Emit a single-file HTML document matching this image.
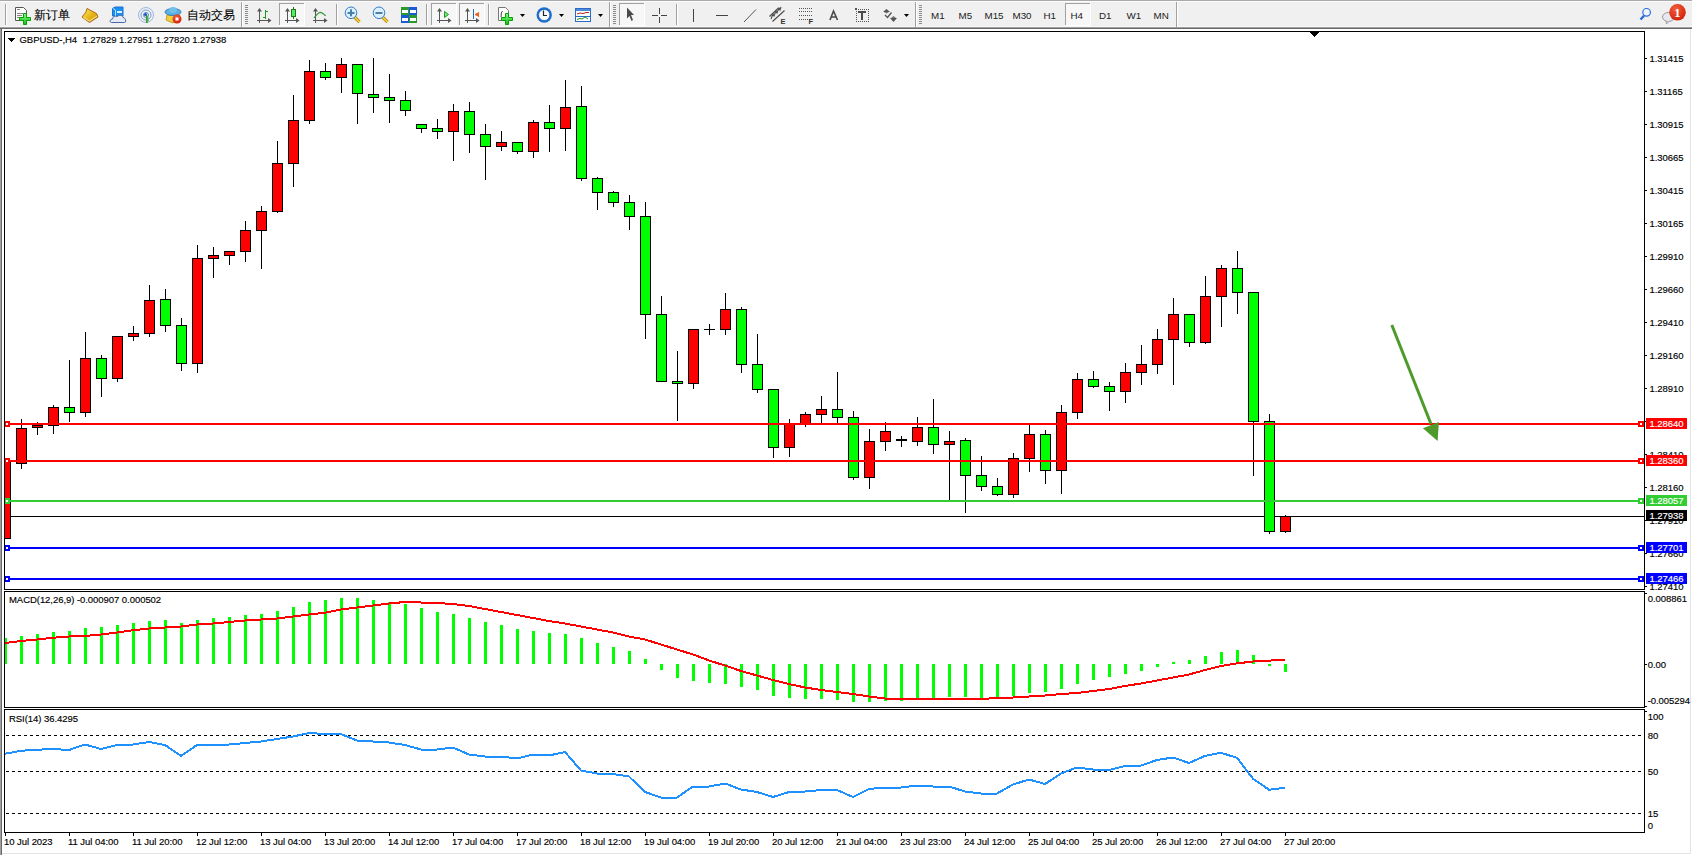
<!DOCTYPE html>
<html><head><meta charset="utf-8"><style>
html,body{margin:0;padding:0;}
body{width:1692px;height:855px;overflow:hidden;background:#f0f0f0;position:relative;font-family:"Liberation Sans",sans-serif;}
svg{position:absolute;left:0;top:0;}
.ax,.axw{font-family:"Liberation Sans",sans-serif;font-size:9.5px;letter-spacing:-0.05px;fill:#000;}
.axw{fill:#fff;}
.ax{stroke:#000;stroke-width:0.15px;}
.axw{stroke:#fff;stroke-width:0.15px;}
.cn{font-family:"Liberation Sans",sans-serif;font-size:11.5px;fill:#000;stroke:#000;stroke-width:0.1px;}
.tb{font-family:"Liberation Sans",sans-serif;fill:#444;}
.tf{font-family:"Liberation Sans",sans-serif;font-size:9.8px;fill:#222;}
</style></head><body>
<svg width="1692" height="855" viewBox="0 0 1692 855" shape-rendering="crispEdges">
<defs><clipPath id="mainclip"><rect x="5" y="32" width="1639" height="557"/></clipPath></defs>
<rect x="0" y="27" width="1692" height="828" fill="#ffffff"/>
<rect x="0" y="27" width="1" height="828" fill="#a0a0a0"/>
<rect x="1" y="28" width="1" height="827" fill="#696969"/>
<rect x="1690" y="29" width="1" height="825" fill="#e3e3e3"/>
<rect x="2" y="853" width="1689" height="1" fill="#e3e3e3"/>
<rect x="5" y="516" width="1639" height="1" fill="#000"/>
<g clip-path="url(#mainclip)"><rect x="5" y="462" width="1" height="77" fill="#000"/><rect x="0" y="462" width="11" height="77" fill="#000"/><rect x="1" y="463" width="9" height="75" fill="#ff0000"/><rect x="21" y="419" width="1" height="50" fill="#000"/><rect x="16" y="428" width="11" height="36" fill="#000"/><rect x="17" y="429" width="9" height="34" fill="#ff0000"/><rect x="37" y="422" width="1" height="13" fill="#000"/><rect x="32" y="425" width="11" height="3" fill="#000"/><rect x="33" y="426" width="9" height="1" fill="#ff0000"/><rect x="53" y="405" width="1" height="29" fill="#000"/><rect x="48" y="407" width="11" height="19" fill="#000"/><rect x="49" y="408" width="9" height="17" fill="#ff0000"/><rect x="69" y="360" width="1" height="62" fill="#000"/><rect x="64" y="407" width="11" height="6" fill="#000"/><rect x="65" y="408" width="9" height="4" fill="#00ff00"/><rect x="85" y="332" width="1" height="85" fill="#000"/><rect x="80" y="358" width="11" height="55" fill="#000"/><rect x="81" y="359" width="9" height="53" fill="#ff0000"/><rect x="101" y="355" width="1" height="42" fill="#000"/><rect x="96" y="358" width="11" height="21" fill="#000"/><rect x="97" y="359" width="9" height="19" fill="#00ff00"/><rect x="117" y="336" width="1" height="46" fill="#000"/><rect x="112" y="336" width="11" height="43" fill="#000"/><rect x="113" y="337" width="9" height="41" fill="#ff0000"/><rect x="133" y="326" width="1" height="15" fill="#000"/><rect x="128" y="333" width="11" height="4" fill="#000"/><rect x="129" y="334" width="9" height="2" fill="#ff0000"/><rect x="149" y="285" width="1" height="52" fill="#000"/><rect x="144" y="300" width="11" height="34" fill="#000"/><rect x="145" y="301" width="9" height="32" fill="#ff0000"/><rect x="165" y="289" width="1" height="43" fill="#000"/><rect x="160" y="299" width="11" height="27" fill="#000"/><rect x="161" y="300" width="9" height="25" fill="#00ff00"/><rect x="181" y="318" width="1" height="53" fill="#000"/><rect x="176" y="325" width="11" height="39" fill="#000"/><rect x="177" y="326" width="9" height="37" fill="#00ff00"/><rect x="197" y="245" width="1" height="128" fill="#000"/><rect x="192" y="258" width="11" height="106" fill="#000"/><rect x="193" y="259" width="9" height="104" fill="#ff0000"/><rect x="213" y="247" width="1" height="31" fill="#000"/><rect x="208" y="255" width="11" height="4" fill="#000"/><rect x="209" y="256" width="9" height="2" fill="#ff0000"/><rect x="229" y="251" width="1" height="14" fill="#000"/><rect x="224" y="251" width="11" height="5" fill="#000"/><rect x="225" y="252" width="9" height="3" fill="#ff0000"/><rect x="245" y="221" width="1" height="41" fill="#000"/><rect x="240" y="230" width="11" height="22" fill="#000"/><rect x="241" y="231" width="9" height="20" fill="#ff0000"/><rect x="261" y="206" width="1" height="63" fill="#000"/><rect x="256" y="211" width="11" height="20" fill="#000"/><rect x="257" y="212" width="9" height="18" fill="#ff0000"/><rect x="277" y="141" width="1" height="72" fill="#000"/><rect x="272" y="163" width="11" height="49" fill="#000"/><rect x="273" y="164" width="9" height="47" fill="#ff0000"/><rect x="293" y="95" width="1" height="92" fill="#000"/><rect x="288" y="120" width="11" height="44" fill="#000"/><rect x="289" y="121" width="9" height="42" fill="#ff0000"/><rect x="309" y="60" width="1" height="64" fill="#000"/><rect x="304" y="71" width="11" height="50" fill="#000"/><rect x="305" y="72" width="9" height="48" fill="#ff0000"/><rect x="325" y="63" width="1" height="17" fill="#000"/><rect x="320" y="71" width="11" height="7" fill="#000"/><rect x="321" y="72" width="9" height="5" fill="#00ff00"/><rect x="341" y="58" width="1" height="35" fill="#000"/><rect x="336" y="64" width="11" height="14" fill="#000"/><rect x="337" y="65" width="9" height="12" fill="#ff0000"/><rect x="357" y="64" width="1" height="60" fill="#000"/><rect x="352" y="64" width="11" height="30" fill="#000"/><rect x="353" y="65" width="9" height="28" fill="#00ff00"/><rect x="373" y="58" width="1" height="55" fill="#000"/><rect x="368" y="94" width="11" height="4" fill="#000"/><rect x="369" y="95" width="9" height="2" fill="#00ff00"/><rect x="389" y="74" width="1" height="49" fill="#000"/><rect x="384" y="97" width="11" height="4" fill="#000"/><rect x="385" y="98" width="9" height="2" fill="#00ff00"/><rect x="405" y="91" width="1" height="25" fill="#000"/><rect x="400" y="100" width="11" height="11" fill="#000"/><rect x="401" y="101" width="9" height="9" fill="#00ff00"/><rect x="421" y="124" width="1" height="9" fill="#000"/><rect x="416" y="124" width="11" height="5" fill="#000"/><rect x="417" y="125" width="9" height="3" fill="#00ff00"/><rect x="437" y="119" width="1" height="20" fill="#000"/><rect x="432" y="128" width="11" height="4" fill="#000"/><rect x="433" y="129" width="9" height="2" fill="#00ff00"/><rect x="453" y="104" width="1" height="57" fill="#000"/><rect x="448" y="111" width="11" height="21" fill="#000"/><rect x="449" y="112" width="9" height="19" fill="#ff0000"/><rect x="469" y="102" width="1" height="51" fill="#000"/><rect x="464" y="111" width="11" height="24" fill="#000"/><rect x="465" y="112" width="9" height="22" fill="#00ff00"/><rect x="485" y="124" width="1" height="56" fill="#000"/><rect x="480" y="134" width="11" height="13" fill="#000"/><rect x="481" y="135" width="9" height="11" fill="#00ff00"/><rect x="501" y="131" width="1" height="20" fill="#000"/><rect x="496" y="142" width="11" height="5" fill="#000"/><rect x="497" y="143" width="9" height="3" fill="#ff0000"/><rect x="517" y="142" width="1" height="12" fill="#000"/><rect x="512" y="142" width="11" height="10" fill="#000"/><rect x="513" y="143" width="9" height="8" fill="#00ff00"/><rect x="533" y="120" width="1" height="38" fill="#000"/><rect x="528" y="122" width="11" height="30" fill="#000"/><rect x="529" y="123" width="9" height="28" fill="#ff0000"/><rect x="549" y="105" width="1" height="47" fill="#000"/><rect x="544" y="122" width="11" height="7" fill="#000"/><rect x="545" y="123" width="9" height="5" fill="#00ff00"/><rect x="565" y="80" width="1" height="71" fill="#000"/><rect x="560" y="107" width="11" height="22" fill="#000"/><rect x="561" y="108" width="9" height="20" fill="#ff0000"/><rect x="581" y="86" width="1" height="95" fill="#000"/><rect x="576" y="106" width="11" height="73" fill="#000"/><rect x="577" y="107" width="9" height="71" fill="#00ff00"/><rect x="597" y="177" width="1" height="33" fill="#000"/><rect x="592" y="178" width="11" height="15" fill="#000"/><rect x="593" y="179" width="9" height="13" fill="#00ff00"/><rect x="613" y="191" width="1" height="16" fill="#000"/><rect x="608" y="192" width="11" height="11" fill="#000"/><rect x="609" y="193" width="9" height="9" fill="#00ff00"/><rect x="629" y="195" width="1" height="35" fill="#000"/><rect x="624" y="202" width="11" height="15" fill="#000"/><rect x="625" y="203" width="9" height="13" fill="#00ff00"/><rect x="645" y="202" width="1" height="137" fill="#000"/><rect x="640" y="216" width="11" height="99" fill="#000"/><rect x="641" y="217" width="9" height="97" fill="#00ff00"/><rect x="661" y="296" width="1" height="86" fill="#000"/><rect x="656" y="314" width="11" height="68" fill="#000"/><rect x="657" y="315" width="9" height="66" fill="#00ff00"/><rect x="677" y="351" width="1" height="70" fill="#000"/><rect x="672" y="381" width="11" height="3" fill="#000"/><rect x="673" y="382" width="9" height="1" fill="#00ff00"/><rect x="693" y="329" width="1" height="60" fill="#000"/><rect x="688" y="329" width="11" height="55" fill="#000"/><rect x="689" y="330" width="9" height="53" fill="#ff0000"/><rect x="709" y="324" width="1" height="11" fill="#000"/><rect x="704" y="329" width="11" height="1" fill="#000"/><rect x="725" y="293" width="1" height="42" fill="#000"/><rect x="720" y="309" width="11" height="21" fill="#000"/><rect x="721" y="310" width="9" height="19" fill="#ff0000"/><rect x="741" y="307" width="1" height="66" fill="#000"/><rect x="736" y="309" width="11" height="56" fill="#000"/><rect x="737" y="310" width="9" height="54" fill="#00ff00"/><rect x="757" y="334" width="1" height="59" fill="#000"/><rect x="752" y="364" width="11" height="26" fill="#000"/><rect x="753" y="365" width="9" height="24" fill="#00ff00"/><rect x="773" y="389" width="1" height="69" fill="#000"/><rect x="768" y="389" width="11" height="59" fill="#000"/><rect x="769" y="390" width="9" height="57" fill="#00ff00"/><rect x="789" y="419" width="1" height="38" fill="#000"/><rect x="784" y="424" width="11" height="24" fill="#000"/><rect x="785" y="425" width="9" height="22" fill="#ff0000"/><rect x="805" y="412" width="1" height="15" fill="#000"/><rect x="800" y="414" width="11" height="11" fill="#000"/><rect x="801" y="415" width="9" height="9" fill="#ff0000"/><rect x="821" y="396" width="1" height="27" fill="#000"/><rect x="816" y="409" width="11" height="6" fill="#000"/><rect x="817" y="410" width="9" height="4" fill="#ff0000"/><rect x="837" y="372" width="1" height="51" fill="#000"/><rect x="832" y="409" width="11" height="9" fill="#000"/><rect x="833" y="410" width="9" height="7" fill="#00ff00"/><rect x="853" y="411" width="1" height="69" fill="#000"/><rect x="848" y="417" width="11" height="61" fill="#000"/><rect x="849" y="418" width="9" height="59" fill="#00ff00"/><rect x="869" y="429" width="1" height="60" fill="#000"/><rect x="864" y="441" width="11" height="37" fill="#000"/><rect x="865" y="442" width="9" height="35" fill="#ff0000"/><rect x="885" y="422" width="1" height="29" fill="#000"/><rect x="880" y="431" width="11" height="11" fill="#000"/><rect x="881" y="432" width="9" height="9" fill="#ff0000"/><rect x="901" y="436" width="1" height="11" fill="#000"/><rect x="896" y="439" width="11" height="2" fill="#000"/><rect x="917" y="417" width="1" height="29" fill="#000"/><rect x="912" y="427" width="11" height="15" fill="#000"/><rect x="913" y="428" width="9" height="13" fill="#ff0000"/><rect x="933" y="399" width="1" height="55" fill="#000"/><rect x="928" y="427" width="11" height="18" fill="#000"/><rect x="929" y="428" width="9" height="16" fill="#00ff00"/><rect x="949" y="431" width="1" height="70" fill="#000"/><rect x="944" y="441" width="11" height="4" fill="#000"/><rect x="945" y="442" width="9" height="2" fill="#ff0000"/><rect x="965" y="438" width="1" height="75" fill="#000"/><rect x="960" y="440" width="11" height="36" fill="#000"/><rect x="961" y="441" width="9" height="34" fill="#00ff00"/><rect x="981" y="456" width="1" height="35" fill="#000"/><rect x="976" y="475" width="11" height="12" fill="#000"/><rect x="977" y="476" width="9" height="10" fill="#00ff00"/><rect x="997" y="478" width="1" height="18" fill="#000"/><rect x="992" y="486" width="11" height="9" fill="#000"/><rect x="993" y="487" width="9" height="7" fill="#00ff00"/><rect x="1013" y="453" width="1" height="45" fill="#000"/><rect x="1008" y="458" width="11" height="37" fill="#000"/><rect x="1009" y="459" width="9" height="35" fill="#ff0000"/><rect x="1029" y="425" width="1" height="47" fill="#000"/><rect x="1024" y="434" width="11" height="25" fill="#000"/><rect x="1025" y="435" width="9" height="23" fill="#ff0000"/><rect x="1045" y="430" width="1" height="54" fill="#000"/><rect x="1040" y="434" width="11" height="37" fill="#000"/><rect x="1041" y="435" width="9" height="35" fill="#00ff00"/><rect x="1061" y="405" width="1" height="89" fill="#000"/><rect x="1056" y="412" width="11" height="59" fill="#000"/><rect x="1057" y="413" width="9" height="57" fill="#ff0000"/><rect x="1077" y="373" width="1" height="46" fill="#000"/><rect x="1072" y="379" width="11" height="34" fill="#000"/><rect x="1073" y="380" width="9" height="32" fill="#ff0000"/><rect x="1093" y="371" width="1" height="17" fill="#000"/><rect x="1088" y="379" width="11" height="8" fill="#000"/><rect x="1089" y="380" width="9" height="6" fill="#00ff00"/><rect x="1109" y="382" width="1" height="29" fill="#000"/><rect x="1104" y="386" width="11" height="6" fill="#000"/><rect x="1105" y="387" width="9" height="4" fill="#00ff00"/><rect x="1125" y="363" width="1" height="40" fill="#000"/><rect x="1120" y="372" width="11" height="20" fill="#000"/><rect x="1121" y="373" width="9" height="18" fill="#ff0000"/><rect x="1141" y="345" width="1" height="40" fill="#000"/><rect x="1136" y="364" width="11" height="9" fill="#000"/><rect x="1137" y="365" width="9" height="7" fill="#ff0000"/><rect x="1157" y="329" width="1" height="45" fill="#000"/><rect x="1152" y="339" width="11" height="26" fill="#000"/><rect x="1153" y="340" width="9" height="24" fill="#ff0000"/><rect x="1173" y="298" width="1" height="87" fill="#000"/><rect x="1168" y="314" width="11" height="26" fill="#000"/><rect x="1169" y="315" width="9" height="24" fill="#ff0000"/><rect x="1189" y="314" width="1" height="33" fill="#000"/><rect x="1184" y="314" width="11" height="29" fill="#000"/><rect x="1185" y="315" width="9" height="27" fill="#00ff00"/><rect x="1205" y="276" width="1" height="68" fill="#000"/><rect x="1200" y="296" width="11" height="47" fill="#000"/><rect x="1201" y="297" width="9" height="45" fill="#ff0000"/><rect x="1221" y="265" width="1" height="62" fill="#000"/><rect x="1216" y="268" width="11" height="29" fill="#000"/><rect x="1217" y="269" width="9" height="27" fill="#ff0000"/><rect x="1237" y="251" width="1" height="63" fill="#000"/><rect x="1232" y="268" width="11" height="25" fill="#000"/><rect x="1233" y="269" width="9" height="23" fill="#00ff00"/><rect x="1253" y="292" width="1" height="184" fill="#000"/><rect x="1248" y="292" width="11" height="130" fill="#000"/><rect x="1249" y="293" width="9" height="128" fill="#00ff00"/><rect x="1269" y="414" width="1" height="120" fill="#000"/><rect x="1264" y="421" width="11" height="111" fill="#000"/><rect x="1265" y="422" width="9" height="109" fill="#00ff00"/><rect x="1285" y="515" width="1" height="18" fill="#000"/><rect x="1280" y="516" width="11" height="16" fill="#000"/><rect x="1281" y="517" width="9" height="14" fill="#ff0000"/></g>
<rect x="5" y="423" width="1639" height="2" fill="#ff0000"/>
<rect x="4" y="421" width="6" height="6" fill="#ff0000"/><rect x="6" y="423" width="2" height="2" fill="#fff"/>
<rect x="1638" y="421" width="6" height="6" fill="#ff0000"/><rect x="1640" y="423" width="2" height="2" fill="#fff"/>
<rect x="5" y="460" width="1639" height="2" fill="#ff0000"/>
<rect x="4" y="458" width="6" height="6" fill="#ff0000"/><rect x="6" y="460" width="2" height="2" fill="#fff"/>
<rect x="1638" y="458" width="6" height="6" fill="#ff0000"/><rect x="1640" y="460" width="2" height="2" fill="#fff"/>
<rect x="5" y="500" width="1639" height="2" fill="#32cd32"/>
<rect x="4" y="498" width="6" height="6" fill="#32cd32"/><rect x="6" y="500" width="2" height="2" fill="#fff"/>
<rect x="1638" y="498" width="6" height="6" fill="#32cd32"/><rect x="1640" y="500" width="2" height="2" fill="#fff"/>
<rect x="5" y="547" width="1639" height="2" fill="#0000ff"/>
<rect x="4" y="545" width="6" height="6" fill="#0000ff"/><rect x="6" y="547" width="2" height="2" fill="#fff"/>
<rect x="1638" y="545" width="6" height="6" fill="#0000ff"/><rect x="1640" y="547" width="2" height="2" fill="#fff"/>
<rect x="5" y="578" width="1639" height="2" fill="#0000ff"/>
<rect x="4" y="576" width="6" height="6" fill="#0000ff"/><rect x="6" y="578" width="2" height="2" fill="#fff"/>
<rect x="1638" y="576" width="6" height="6" fill="#0000ff"/><rect x="1640" y="578" width="2" height="2" fill="#fff"/>
<line x1="1391.8" y1="325" x2="1431" y2="424" stroke="#4e9a2a" stroke-width="3" shape-rendering="auto"/>
<polygon points="1422.9,428.2 1438.9,422.1 1437.6,440.9" fill="#4e9a2a" shape-rendering="auto"/>
<rect x="4" y="31" width="1641" height="1" fill="#000"/>
<rect x="4" y="589" width="1641" height="1" fill="#000"/>
<rect x="4" y="31" width="1" height="559" fill="#000"/>
<rect x="1644" y="31" width="1" height="559" fill="#000"/>
<rect x="4" y="591" width="1641" height="1" fill="#000"/>
<rect x="4" y="707" width="1641" height="1" fill="#000"/>
<rect x="4" y="591" width="1" height="117" fill="#000"/>
<rect x="1644" y="591" width="1" height="117" fill="#000"/>
<rect x="4" y="709" width="1641" height="1" fill="#000"/>
<rect x="4" y="832" width="1641" height="1" fill="#000"/>
<rect x="4" y="709" width="1" height="124" fill="#000"/>
<rect x="1644" y="709" width="1" height="124" fill="#000"/>
<rect x="5" y="638" width="2" height="26" fill="#00ff00"/><rect x="20" y="636" width="3" height="28" fill="#00ff00"/><rect x="36" y="634" width="3" height="30" fill="#00ff00"/><rect x="52" y="632" width="3" height="32" fill="#00ff00"/><rect x="68" y="631" width="3" height="33" fill="#00ff00"/><rect x="84" y="628" width="3" height="36" fill="#00ff00"/><rect x="100" y="627" width="3" height="37" fill="#00ff00"/><rect x="116" y="625" width="3" height="39" fill="#00ff00"/><rect x="132" y="623" width="3" height="41" fill="#00ff00"/><rect x="148" y="621" width="3" height="43" fill="#00ff00"/><rect x="164" y="620" width="3" height="44" fill="#00ff00"/><rect x="180" y="623" width="3" height="41" fill="#00ff00"/><rect x="196" y="620" width="3" height="44" fill="#00ff00"/><rect x="212" y="618" width="3" height="46" fill="#00ff00"/><rect x="228" y="617" width="3" height="47" fill="#00ff00"/><rect x="244" y="615" width="3" height="49" fill="#00ff00"/><rect x="260" y="614" width="3" height="50" fill="#00ff00"/><rect x="276" y="611" width="3" height="53" fill="#00ff00"/><rect x="292" y="607" width="3" height="57" fill="#00ff00"/><rect x="308" y="602" width="3" height="62" fill="#00ff00"/><rect x="324" y="600" width="3" height="64" fill="#00ff00"/><rect x="340" y="598" width="3" height="66" fill="#00ff00"/><rect x="356" y="598" width="3" height="66" fill="#00ff00"/><rect x="372" y="600" width="3" height="64" fill="#00ff00"/><rect x="388" y="602" width="3" height="62" fill="#00ff00"/><rect x="404" y="604" width="3" height="60" fill="#00ff00"/><rect x="420" y="608" width="3" height="56" fill="#00ff00"/><rect x="436" y="612" width="3" height="52" fill="#00ff00"/><rect x="452" y="614" width="3" height="50" fill="#00ff00"/><rect x="468" y="618" width="3" height="46" fill="#00ff00"/><rect x="484" y="622" width="3" height="42" fill="#00ff00"/><rect x="500" y="625" width="3" height="39" fill="#00ff00"/><rect x="516" y="629" width="3" height="35" fill="#00ff00"/><rect x="532" y="631" width="3" height="33" fill="#00ff00"/><rect x="548" y="633" width="3" height="31" fill="#00ff00"/><rect x="564" y="634" width="3" height="30" fill="#00ff00"/><rect x="580" y="638" width="3" height="26" fill="#00ff00"/><rect x="596" y="643" width="3" height="21" fill="#00ff00"/><rect x="612" y="647" width="3" height="17" fill="#00ff00"/><rect x="628" y="651" width="3" height="13" fill="#00ff00"/><rect x="644" y="659" width="3" height="5" fill="#00ff00"/><rect x="660" y="664" width="3" height="6" fill="#00ff00"/><rect x="676" y="664" width="3" height="14" fill="#00ff00"/><rect x="692" y="664" width="3" height="17" fill="#00ff00"/><rect x="708" y="664" width="3" height="19" fill="#00ff00"/><rect x="724" y="664" width="3" height="20" fill="#00ff00"/><rect x="740" y="664" width="3" height="23" fill="#00ff00"/><rect x="756" y="664" width="3" height="26" fill="#00ff00"/><rect x="772" y="664" width="3" height="32" fill="#00ff00"/><rect x="788" y="664" width="3" height="34" fill="#00ff00"/><rect x="804" y="664" width="3" height="35" fill="#00ff00"/><rect x="820" y="664" width="3" height="35" fill="#00ff00"/><rect x="836" y="664" width="3" height="36" fill="#00ff00"/><rect x="852" y="664" width="3" height="38" fill="#00ff00"/><rect x="868" y="664" width="3" height="38" fill="#00ff00"/><rect x="884" y="664" width="3" height="37" fill="#00ff00"/><rect x="900" y="664" width="3" height="37" fill="#00ff00"/><rect x="916" y="664" width="3" height="34" fill="#00ff00"/><rect x="932" y="664" width="3" height="34" fill="#00ff00"/><rect x="948" y="664" width="3" height="33" fill="#00ff00"/><rect x="964" y="664" width="3" height="33" fill="#00ff00"/><rect x="980" y="664" width="3" height="34" fill="#00ff00"/><rect x="996" y="664" width="3" height="33" fill="#00ff00"/><rect x="1012" y="664" width="3" height="32" fill="#00ff00"/><rect x="1028" y="664" width="3" height="29" fill="#00ff00"/><rect x="1044" y="664" width="3" height="28" fill="#00ff00"/><rect x="1060" y="664" width="3" height="25" fill="#00ff00"/><rect x="1076" y="664" width="3" height="20" fill="#00ff00"/><rect x="1092" y="664" width="3" height="16" fill="#00ff00"/><rect x="1108" y="664" width="3" height="13" fill="#00ff00"/><rect x="1124" y="664" width="3" height="10" fill="#00ff00"/><rect x="1140" y="664" width="3" height="7" fill="#00ff00"/><rect x="1156" y="664" width="3" height="3" fill="#00ff00"/><rect x="1172" y="662" width="3" height="2" fill="#00ff00"/><rect x="1188" y="660" width="3" height="4" fill="#00ff00"/><rect x="1204" y="656" width="3" height="8" fill="#00ff00"/><rect x="1220" y="652" width="3" height="12" fill="#00ff00"/><rect x="1236" y="650" width="3" height="14" fill="#00ff00"/><rect x="1252" y="655" width="3" height="9" fill="#00ff00"/><rect x="1268" y="664" width="3" height="2" fill="#00ff00"/><rect x="1284" y="664" width="3" height="8" fill="#00ff00"/>
<polyline points="5,643 21,641 37,639.5 53,637.75 69,636.5 85,636 101,634.5 117,632.5 133,630.25 149,628.5 165,627.5 181,626.5 197,624.5 213,623.5 229,622 245,620.5 261,619.5 277,618.5 293,616.5 309,614.5 325,612.75 341,609.5 357,607.5 373,605.5 389,603.5 405,602 421,602.5 437,603 453,604 469,606 485,609 501,612 517,615 533,618 549,621 565,623.5 581,626.5 597,629.5 613,632.5 629,636.5 645,639.5 661,644.5 677,649.5 693,654.5 709,660.5 725,665.5 741,671 757,675.5 773,680 789,684 805,687.5 821,690 837,692 853,694 869,696.5 885,698.5 901,699 917,699 933,699 949,699 965,699 981,699 997,698 1013,697.5 1029,696.5 1045,695.5 1061,694 1077,693 1093,691 1109,689 1125,686 1141,683.5 1157,680.5 1173,677.5 1189,674.5 1205,670 1221,666 1237,663.4 1253,661.5 1269,660.6 1285,659.9" fill="none" stroke="#ff0000" stroke-width="2"/>
<line x1="5" y1="735.5" x2="1642" y2="735.5" stroke="#000" stroke-width="1" stroke-dasharray="3,3" stroke-dashoffset="5"/>
<line x1="5" y1="771.5" x2="1642" y2="771.5" stroke="#000" stroke-width="1" stroke-dasharray="3,3" stroke-dashoffset="5"/>
<line x1="5" y1="813.5" x2="1642" y2="813.5" stroke="#000" stroke-width="1" stroke-dasharray="3,3" stroke-dashoffset="5"/>
<polyline points="5,753.75 21,750.75 37,749.75 53,749 69,750 85,744.5 101,749 117,745 133,744.5 149,742 165,745 181,756 197,745 213,744.5 229,744.5 245,743 261,741.5 277,739 293,736.5 309,733 325,734 341,734 357,740.5 373,741.5 389,742.5 405,745 421,749.5 437,749.5 453,747.5 469,754.5 485,756.5 501,756.5 517,758.5 533,754.5 549,755.5 565,752 581,770.5 597,773.5 613,774 629,776.5 645,792 661,797.5 677,797.5 693,786.5 709,786.5 725,783.5 741,789.5 757,792 773,797 789,792 805,791.5 821,790 837,790 853,797 869,789 885,787.5 901,787.5 917,785.5 933,786.5 949,786.5 965,791.5 981,793.5 997,793.5 1013,784.5 1029,779.5 1045,784 1061,773.5 1077,767.5 1093,769.5 1109,770 1125,766 1141,765.5 1157,760 1173,757.5 1189,763 1205,755.9 1221,752.8 1237,757.8 1253,778.75 1269,789.7 1285,787.8" fill="none" stroke="#1e90ff" stroke-width="2"/>
<rect x="1645" y="58" width="2" height="1" fill="#000"/>
<text class="ax" x="1649.5" y="62">1.31415</text>
<rect x="1645" y="91" width="2" height="1" fill="#000"/>
<text class="ax" x="1649.5" y="95">1.31165</text>
<rect x="1645" y="124" width="2" height="1" fill="#000"/>
<text class="ax" x="1649.5" y="128">1.30915</text>
<rect x="1645" y="157" width="2" height="1" fill="#000"/>
<text class="ax" x="1649.5" y="161">1.30665</text>
<rect x="1645" y="190" width="2" height="1" fill="#000"/>
<text class="ax" x="1649.5" y="194">1.30415</text>
<rect x="1645" y="223" width="2" height="1" fill="#000"/>
<text class="ax" x="1649.5" y="227">1.30165</text>
<rect x="1645" y="256" width="2" height="1" fill="#000"/>
<text class="ax" x="1649.5" y="260">1.29910</text>
<rect x="1645" y="289" width="2" height="1" fill="#000"/>
<text class="ax" x="1649.5" y="293">1.29660</text>
<rect x="1645" y="322" width="2" height="1" fill="#000"/>
<text class="ax" x="1649.5" y="326">1.29410</text>
<rect x="1645" y="355" width="2" height="1" fill="#000"/>
<text class="ax" x="1649.5" y="359">1.29160</text>
<rect x="1645" y="388" width="2" height="1" fill="#000"/>
<text class="ax" x="1649.5" y="392">1.28910</text>
<rect x="1645" y="421" width="2" height="1" fill="#000"/>
<rect x="1645" y="454" width="2" height="1" fill="#000"/>
<text class="ax" x="1649.5" y="458">1.28410</text>
<rect x="1645" y="487" width="2" height="1" fill="#000"/>
<text class="ax" x="1649.5" y="491">1.28160</text>
<rect x="1645" y="520" width="2" height="1" fill="#000"/>
<text class="ax" x="1649.5" y="524">1.27910</text>
<rect x="1645" y="553" width="2" height="1" fill="#000"/>
<text class="ax" x="1649.5" y="557">1.27660</text>
<rect x="1645" y="586" width="2" height="1" fill="#000"/>
<text class="ax" x="1649.5" y="590">1.27410</text>
<rect x="1646" y="418" width="41" height="11" fill="#ff0000"/>
<text class="axw" x="1649.5" y="427">1.28640</text>
<rect x="1646" y="455" width="41" height="11" fill="#ff0000"/>
<text class="axw" x="1649.5" y="464">1.28360</text>
<rect x="1646" y="495" width="41" height="11" fill="#32cd32"/>
<text class="axw" x="1649.5" y="504">1.28057</text>
<rect x="1646" y="510" width="41" height="11" fill="#000000"/>
<text class="axw" x="1649.5" y="519">1.27938</text>
<rect x="1646" y="542" width="41" height="11" fill="#0000ff"/>
<text class="axw" x="1649.5" y="551">1.27701</text>
<rect x="1646" y="573" width="41" height="11" fill="#0000ff"/>
<text class="axw" x="1649.5" y="582">1.27466</text>
<rect x="1645" y="593" width="2" height="1" fill="#000"/>
<text class="ax" x="1647.7" y="602">0.008861</text>
<rect x="1645" y="664" width="2" height="1" fill="#000"/>
<text class="ax" x="1647.7" y="668">0.00</text>
<rect x="1645" y="706" width="2" height="1" fill="#000"/>
<text class="ax" x="1647.7" y="704">-0.005294</text>
<rect x="1645" y="711" width="2" height="1" fill="#000"/>
<text class="ax" x="1647.7" y="720">100</text>
<text class="ax" x="1647.7" y="739">80</text>
<text class="ax" x="1647.7" y="775">50</text>
<text class="ax" x="1647.7" y="817">15</text>
<text class="ax" x="1647.7" y="829">0</text>
<rect x="5" y="833" width="1" height="3" fill="#000"/>
<text class="ax" x="4" y="845">10 Jul 2023</text>
<rect x="69" y="833" width="1" height="3" fill="#000"/>
<text class="ax" x="68" y="845">11 Jul 04:00</text>
<rect x="133" y="833" width="1" height="3" fill="#000"/>
<text class="ax" x="132" y="845">11 Jul 20:00</text>
<rect x="197" y="833" width="1" height="3" fill="#000"/>
<text class="ax" x="196" y="845">12 Jul 12:00</text>
<rect x="261" y="833" width="1" height="3" fill="#000"/>
<text class="ax" x="260" y="845">13 Jul 04:00</text>
<rect x="325" y="833" width="1" height="3" fill="#000"/>
<text class="ax" x="324" y="845">13 Jul 20:00</text>
<rect x="389" y="833" width="1" height="3" fill="#000"/>
<text class="ax" x="388" y="845">14 Jul 12:00</text>
<rect x="453" y="833" width="1" height="3" fill="#000"/>
<text class="ax" x="452" y="845">17 Jul 04:00</text>
<rect x="517" y="833" width="1" height="3" fill="#000"/>
<text class="ax" x="516" y="845">17 Jul 20:00</text>
<rect x="581" y="833" width="1" height="3" fill="#000"/>
<text class="ax" x="580" y="845">18 Jul 12:00</text>
<rect x="645" y="833" width="1" height="3" fill="#000"/>
<text class="ax" x="644" y="845">19 Jul 04:00</text>
<rect x="709" y="833" width="1" height="3" fill="#000"/>
<text class="ax" x="708" y="845">19 Jul 20:00</text>
<rect x="773" y="833" width="1" height="3" fill="#000"/>
<text class="ax" x="772" y="845">20 Jul 12:00</text>
<rect x="837" y="833" width="1" height="3" fill="#000"/>
<text class="ax" x="836" y="845">21 Jul 04:00</text>
<rect x="901" y="833" width="1" height="3" fill="#000"/>
<text class="ax" x="900" y="845">23 Jul 23:00</text>
<rect x="965" y="833" width="1" height="3" fill="#000"/>
<text class="ax" x="964" y="845">24 Jul 12:00</text>
<rect x="1029" y="833" width="1" height="3" fill="#000"/>
<text class="ax" x="1028" y="845">25 Jul 04:00</text>
<rect x="1093" y="833" width="1" height="3" fill="#000"/>
<text class="ax" x="1092" y="845">25 Jul 20:00</text>
<rect x="1157" y="833" width="1" height="3" fill="#000"/>
<text class="ax" x="1156" y="845">26 Jul 12:00</text>
<rect x="1221" y="833" width="1" height="3" fill="#000"/>
<text class="ax" x="1220" y="845">27 Jul 04:00</text>
<rect x="1285" y="833" width="1" height="3" fill="#000"/>
<text class="ax" x="1284" y="845">27 Jul 20:00</text>
<polygon points="8,38 15,38 11.5,42" fill="#000"/>
<text class="ax" x="19.5" y="43">GBPUSD-,H4</text>
<text class="ax" x="82.5" y="43">1.27829 1.27951 1.27820 1.27938</text>
<text class="ax" x="9" y="603">MACD(12,26,9) -0.000907 0.000502</text>
<text class="ax" x="9" y="722">RSI(14) 36.4295</text>
<polygon points="1309,32 1319,32 1314,37" fill="#000"/>
</svg>
<svg width="1692" height="29" viewBox="0 0 1692 29"><rect x="0" y="0" width="1692" height="27" fill="#f0f0f0"/>
<rect x="0" y="0" width="1692" height="1" fill="#a9a9a9"/>
<rect x="0" y="1" width="1692" height="1" fill="#fcfcfc"/>
<rect x="0" y="26" width="1692" height="1" fill="#f8f8f8"/>
<rect x="0" y="27" width="1692" height="1" fill="#a0a0a0"/>
<rect x="0" y="28" width="1692" height="1" fill="#696969"/>
<rect x="5" y="4" width="1" height="21" fill="#a0a0a0"/><rect x="6" y="4" width="1" height="21" fill="#ffffff"/>
<g><path d="M15.5,7.5 h8 l3,3 v10 h-11 z" fill="#fff" stroke="#555" stroke-width="1"/><rect x="17" y="9" width="3" height="1" fill="#888"/><rect x="17" y="13" width="6" height="1" fill="#888"/><rect x="17" y="15" width="5" height="1" fill="#888"/><rect x="17" y="17" width="3" height="1" fill="#888"/><path d="M23.5,13.5 h3 v4 h4 v3 h-4 v4 h-3 v-4 h-4 v-3 h4 z" fill="url(#grn)" stroke="#0a9a0a" stroke-width="1"/></g>
<text class="cn" x="34" y="18.5">新订单</text>
<defs><linearGradient id="gold" x1="0" y1="0" x2="1" y2="1"><stop offset="0" stop-color="#fff080"/><stop offset="0.5" stop-color="#e8b818"/><stop offset="1" stop-color="#c88a10"/></linearGradient><linearGradient id="grn" x1="0" y1="0" x2="0" y2="1"><stop offset="0" stop-color="#80ff80"/><stop offset="1" stop-color="#10c010"/></linearGradient><radialGradient id="redg" cx="0.4" cy="0.3" r="0.8"><stop offset="0" stop-color="#f06040"/><stop offset="1" stop-color="#d01800"/></radialGradient></defs>
<path d="M87,8.5 L96.5,13.5 L98,17 L89.5,22.5 L82,17 L86,12 Z" fill="url(#gold)" stroke="#a86a10" stroke-width="1"/><path d="M83.5,17.5 L89.5,21 L97,16" fill="none" stroke="#f8e8a0" stroke-width="1"/>
<path d="M112.5,8.5 L115,7 L123,7 L123,16 L112.5,16 Z" fill="#1a90f0" stroke="#1a70d8" stroke-width="1"/><path d="M113,8.5 L115.5,10 L115.5,16" fill="none" stroke="#a8dcff" stroke-width="1"/><rect x="117" y="11" width="5" height="2" fill="#d8f0ff"/><path d="M111.5,22.5 C109.5,22.5 109.5,19 112.5,19 C112.5,16.5 115.5,15.5 117.5,16.5 C119,14.5 123,15 123.5,18 C126,18 126.5,22.5 124.5,22.5 Z" fill="#e4eaf4" stroke="#4a68a8" stroke-width="1"/>
<circle cx="146" cy="15" r="7.5" fill="none" stroke="#9ab8e0" stroke-width="1"/><circle cx="146" cy="15" r="5" fill="none" stroke="#7aa0d8" stroke-width="1"/><circle cx="146" cy="15" r="2.5" fill="none" stroke="#5a88d0" stroke-width="1"/><path d="M146,15 A7.5,7.5 0 0 1 147,22.5" fill="none" stroke="#5aaa5a" stroke-width="2"/><circle cx="145.5" cy="14.5" r="1.5" fill="#2050c0"/><rect x="146" y="15" width="1" height="8" fill="#30a030"/>
<path d="M166,20 L173,23 L180,15 L167,15 Z" fill="#f0d040" stroke="#c8a020" stroke-width="1"/><ellipse cx="173" cy="12" rx="8" ry="3.5" fill="#5ab0e0" stroke="#3a80b8" stroke-width="1"/><ellipse cx="173" cy="10" rx="4" ry="3" fill="#70c0ea"/><circle cx="177" cy="19" r="4.5" fill="url(#redg)"/><rect x="175.5" y="17.5" width="3" height="3" fill="#fff"/>
<text class="cn" x="187" y="18.5">自动交易</text>
<rect x="241" y="2" width="1" height="25" fill="#a0a0a0"/><rect x="242" y="2" width="1" height="25" fill="#ffffff"/>
<rect x="245" y="5" width="3" height="1" fill="#8c8c8c"/>
<rect x="245" y="7" width="3" height="1" fill="#8c8c8c"/>
<rect x="245" y="9" width="3" height="1" fill="#8c8c8c"/>
<rect x="245" y="11" width="3" height="1" fill="#8c8c8c"/>
<rect x="245" y="13" width="3" height="1" fill="#8c8c8c"/>
<rect x="245" y="15" width="3" height="1" fill="#8c8c8c"/>
<rect x="245" y="17" width="3" height="1" fill="#8c8c8c"/>
<rect x="245" y="19" width="3" height="1" fill="#8c8c8c"/>
<rect x="245" y="21" width="3" height="1" fill="#8c8c8c"/>
<rect x="245" y="23" width="3" height="1" fill="#8c8c8c"/>
<rect x="259" y="10" width="1" height="13" fill="#555"/><path d="M257,11.5 L259.5,8 L262,11.5 Z" fill="#555"/>
<rect x="257" y="20" width="12" height="1" fill="#555"/><path d="M268,18 L271.5,20.5 L268,23 Z" fill="#555"/>
<rect x="265" y="10" width="1" height="9" fill="#1a9a1a"/><rect x="266" y="11" width="2" height="1" fill="#1a9a1a"/><rect x="263" y="17" width="2" height="1" fill="#1a9a1a"/>
<rect x="279" y="3" width="25" height="22" fill="#f7f7f7"/>
<rect x="279" y="3" width="25" height="1" fill="#a0a0a0"/><rect x="279" y="3" width="1" height="22" fill="#a0a0a0"/>
<rect x="279" y="25" width="26" height="1" fill="#ffffff"/><rect x="304" y="3" width="1" height="23" fill="#ffffff"/>
<rect x="287" y="10" width="1" height="13" fill="#555"/><path d="M285,11.5 L287.5,8 L290,11.5 Z" fill="#555"/>
<rect x="285" y="20" width="12" height="1" fill="#555"/><path d="M296,18 L299.5,20.5 L296,23 Z" fill="#555"/>
<rect x="293" y="7" width="1" height="12" fill="#1a7a1a"/><rect x="291.5" y="9.5" width="4" height="7" fill="#50f060" stroke="#1a7a1a" stroke-width="1"/>
<rect x="315" y="10" width="1" height="13" fill="#555"/><path d="M313,11.5 L315.5,8 L318,11.5 Z" fill="#555"/>
<rect x="313" y="20" width="12" height="1" fill="#555"/><path d="M324,18 L327.5,20.5 L324,23 Z" fill="#555"/>
<path d="M314,18 C316,15.5 318,12.3 320.5,12.3 C322.5,12.5 324,14.8 325.8,15.8" fill="none" stroke="#3a9a3a" stroke-width="1.2"/>
<rect x="336" y="4" width="1" height="21" fill="#a0a0a0"/><rect x="337" y="4" width="1" height="21" fill="#ffffff"/>
<path d="M354,16.5 L359.5,22" stroke="#c08a10" stroke-width="3.2"/><path d="M354,16.5 L359.5,22" stroke="#f0d840" stroke-width="1.6"/>
<circle cx="351" cy="12.8" r="5.8" fill="#daf0ff" stroke="#3a7cc8" stroke-width="1"/>
<rect x="347.5" y="12" width="7" height="2" fill="#4a80a8"/>
<rect x="350" y="9.3" width="2" height="7" fill="#4a80a8"/>
<path d="M382,16.5 L387.5,22" stroke="#c08a10" stroke-width="3.2"/><path d="M382,16.5 L387.5,22" stroke="#f0d840" stroke-width="1.6"/>
<circle cx="379" cy="12.8" r="5.8" fill="#daf0ff" stroke="#3a7cc8" stroke-width="1"/>
<rect x="375.5" y="12" width="7" height="2" fill="#4a80a8"/>
<rect x="401" y="7" width="8" height="8" fill="#2a9a2a"/><rect x="402" y="10" width="6" height="3" fill="#fff"/>
<rect x="409" y="7" width="8" height="8" fill="#1a5ad8"/><rect x="410" y="10" width="6" height="3" fill="#fff"/>
<rect x="401" y="15" width="8" height="8" fill="#1a5ad8"/><rect x="402" y="18" width="6" height="3" fill="#fff"/>
<rect x="409" y="15" width="8" height="8" fill="#2a9a2a"/><rect x="410" y="18" width="6" height="3" fill="#fff"/>
<rect x="426" y="4" width="1" height="21" fill="#a0a0a0"/><rect x="427" y="4" width="1" height="21" fill="#ffffff"/>
<rect x="431" y="3" width="25" height="22" fill="#f7f7f7"/>
<rect x="431" y="3" width="25" height="1" fill="#a0a0a0"/><rect x="431" y="3" width="1" height="22" fill="#a0a0a0"/>
<rect x="431" y="25" width="26" height="1" fill="#ffffff"/><rect x="456" y="3" width="1" height="23" fill="#ffffff"/>
<rect x="439" y="10" width="1" height="13" fill="#555"/><path d="M437,11.5 L439.5,8 L442,11.5 Z" fill="#555"/>
<rect x="437" y="20" width="12" height="1" fill="#555"/><path d="M448,18 L451.5,20.5 L448,23 Z" fill="#555"/>
<path d="M444.5,11.5 L448.5,14.5 L444.5,17.5 Z" fill="#80e080" stroke="#1a9a1a" stroke-width="1"/>
<rect x="459" y="3" width="25" height="22" fill="#f7f7f7"/>
<rect x="459" y="3" width="25" height="1" fill="#a0a0a0"/><rect x="459" y="3" width="1" height="22" fill="#a0a0a0"/>
<rect x="459" y="25" width="26" height="1" fill="#ffffff"/><rect x="484" y="3" width="1" height="23" fill="#ffffff"/>
<rect x="467" y="10" width="1" height="13" fill="#555"/><path d="M465,11.5 L467.5,8 L470,11.5 Z" fill="#555"/>
<rect x="465" y="20" width="12" height="1" fill="#555"/><path d="M476,18 L479.5,20.5 L476,23 Z" fill="#555"/>
<rect x="473" y="9" width="1" height="10" fill="#1a70b8"/><path d="M475,14.5 L479,12.5 L478,14.5 L479,16.5 Z" fill="#e85a10" stroke="#e85a10" stroke-width="0.8"/><rect x="476" y="14" width="3" height="1" fill="#e85a10"/>
<rect x="488" y="4" width="1" height="21" fill="#a0a0a0"/><rect x="489" y="4" width="1" height="21" fill="#ffffff"/>
<path d="M498.5,7.5 h7 l3,3 v10 h-10 z" fill="#fff" stroke="#777" stroke-width="1"/><path d="M501,17 q0,-5 1.5,-6" fill="none" stroke="#444" stroke-width="1"/><path d="M505.5,13.5 h3 v4 h4 v3 h-4 v4 h-3 v-4 h-4 v-3 h4 z" fill="url(#grn)" stroke="#0a9a0a" stroke-width="1"/>
<polygon points="520,14 525,14 522.5,17" fill="#000"/>
<circle cx="544.2" cy="15" r="7.7" fill="#1a6fd0"/><circle cx="544.2" cy="15" r="5.6" fill="#f8fbff" stroke="#0a4aa0" stroke-width="0.6"/><path d="M543.5,10.5 V15.5 H547" fill="none" stroke="#222" stroke-width="1.2"/>
<polygon points="559,14 564,14 561.5,17" fill="#000"/>
<rect x="575.5" y="8.5" width="15" height="13" fill="#fff" stroke="#2a6ac8" stroke-width="1"/><rect x="576" y="9" width="14" height="2" fill="#4a8ad8"/><path d="M577,14 l3,-1 l3,0.5 l3,-1 l3,0" fill="none" stroke="#b02a10" stroke-width="1"/><rect x="576" y="16" width="14" height="1" fill="#2a6ac8"/><path d="M577,19.5 l3,-1 l2,0.5 l3,-2 l3,2" fill="none" stroke="#1a9a1a" stroke-width="1"/>
<polygon points="598,14 603,14 600.5,17" fill="#000"/>
<rect x="609" y="2" width="1" height="25" fill="#a0a0a0"/><rect x="610" y="2" width="1" height="25" fill="#ffffff"/>
<rect x="613" y="5" width="3" height="1" fill="#8c8c8c"/>
<rect x="613" y="7" width="3" height="1" fill="#8c8c8c"/>
<rect x="613" y="9" width="3" height="1" fill="#8c8c8c"/>
<rect x="613" y="11" width="3" height="1" fill="#8c8c8c"/>
<rect x="613" y="13" width="3" height="1" fill="#8c8c8c"/>
<rect x="613" y="15" width="3" height="1" fill="#8c8c8c"/>
<rect x="613" y="17" width="3" height="1" fill="#8c8c8c"/>
<rect x="613" y="19" width="3" height="1" fill="#8c8c8c"/>
<rect x="613" y="21" width="3" height="1" fill="#8c8c8c"/>
<rect x="613" y="23" width="3" height="1" fill="#8c8c8c"/>
<rect x="619" y="3" width="25" height="22" fill="#f7f7f7"/>
<rect x="619" y="3" width="25" height="1" fill="#a0a0a0"/><rect x="619" y="3" width="1" height="22" fill="#a0a0a0"/>
<rect x="619" y="25" width="26" height="1" fill="#ffffff"/><rect x="644" y="3" width="1" height="23" fill="#ffffff"/>
<path d="M627,7.5 L634,15 L631,15 L633,20 L631.5,21 L629.5,16 L627,18.5 Z" fill="#4a4a4a"/>
<rect x="652" y="15" width="6" height="1" fill="#444"/><rect x="661" y="15" width="6" height="1" fill="#444"/><rect x="659" y="8" width="1" height="6" fill="#444"/><rect x="659" y="17" width="1" height="6" fill="#444"/>
<rect x="676" y="4" width="1" height="21" fill="#a0a0a0"/><rect x="677" y="4" width="1" height="21" fill="#ffffff"/>
<rect x="693" y="9" width="1" height="13" fill="#444"/>
<rect x="716" y="15" width="12" height="1" fill="#444"/>
<line x1="744" y1="22" x2="756" y2="9.5" stroke="#555" stroke-width="1" shape-rendering="auto"/>
<g stroke="#4a4a4a" stroke-width="1.1"><line x1="769.5" y1="16.5" x2="778.5" y2="8"/><line x1="772.5" y1="21.5" x2="784.5" y2="10.5"/><path d="M771,19 l2,-5 l1,2 l2,-5 l1,2 l2,-5 l1,2 l1,-3" fill="none"/></g><text class="tb" x="780.5" y="24" style="font-size:7.5px;font-weight:bold;fill:#333">E</text>
<rect x="799" y="8" width="1" height="1" fill="#555"/>
<rect x="801" y="8" width="1" height="1" fill="#555"/>
<rect x="803" y="8" width="1" height="1" fill="#555"/>
<rect x="805" y="8" width="1" height="1" fill="#555"/>
<rect x="807" y="8" width="1" height="1" fill="#555"/>
<rect x="809" y="8" width="1" height="1" fill="#555"/>
<rect x="811" y="8" width="1" height="1" fill="#555"/>
<rect x="799" y="11" width="1" height="1" fill="#555"/>
<rect x="801" y="11" width="1" height="1" fill="#555"/>
<rect x="803" y="11" width="1" height="1" fill="#555"/>
<rect x="805" y="11" width="1" height="1" fill="#555"/>
<rect x="807" y="11" width="1" height="1" fill="#555"/>
<rect x="809" y="11" width="1" height="1" fill="#555"/>
<rect x="811" y="11" width="1" height="1" fill="#555"/>
<rect x="799" y="15" width="1" height="1" fill="#555"/>
<rect x="801" y="15" width="1" height="1" fill="#555"/>
<rect x="803" y="15" width="1" height="1" fill="#555"/>
<rect x="805" y="15" width="1" height="1" fill="#555"/>
<rect x="807" y="15" width="1" height="1" fill="#555"/>
<rect x="809" y="15" width="1" height="1" fill="#555"/>
<rect x="811" y="15" width="1" height="1" fill="#555"/>
<rect x="799" y="19" width="1" height="1" fill="#555"/>
<rect x="801" y="19" width="1" height="1" fill="#555"/>
<rect x="803" y="19" width="1" height="1" fill="#555"/>
<rect x="805" y="19" width="1" height="1" fill="#555"/>
<rect x="807" y="19" width="1" height="1" fill="#555"/>
<rect x="809" y="19" width="1" height="1" fill="#555"/>
<rect x="811" y="19" width="1" height="1" fill="#555"/>
<text class="tb" x="808.5" y="24" style="font-size:7.5px;font-weight:bold;fill:#333">F</text>
<path d="M830,20 L833.5,11 L837.5,20 M831.5,17 H836" fill="none" stroke="#4a4a4a" stroke-width="1.6"/>
<rect x="856" y="9" width="1" height="1" fill="#555"/><rect x="856" y="21" width="1" height="1" fill="#555"/>
<rect x="858" y="9" width="1" height="1" fill="#555"/><rect x="858" y="21" width="1" height="1" fill="#555"/>
<rect x="860" y="9" width="1" height="1" fill="#555"/><rect x="860" y="21" width="1" height="1" fill="#555"/>
<rect x="862" y="9" width="1" height="1" fill="#555"/><rect x="862" y="21" width="1" height="1" fill="#555"/>
<rect x="864" y="9" width="1" height="1" fill="#555"/><rect x="864" y="21" width="1" height="1" fill="#555"/>
<rect x="866" y="9" width="1" height="1" fill="#555"/><rect x="866" y="21" width="1" height="1" fill="#555"/>
<rect x="868" y="9" width="1" height="1" fill="#555"/><rect x="868" y="21" width="1" height="1" fill="#555"/>
<rect x="856" y="9" width="1" height="1" fill="#555"/><rect x="868" y="9" width="1" height="1" fill="#555"/>
<rect x="856" y="11" width="1" height="1" fill="#555"/><rect x="868" y="11" width="1" height="1" fill="#555"/>
<rect x="856" y="13" width="1" height="1" fill="#555"/><rect x="868" y="13" width="1" height="1" fill="#555"/>
<rect x="856" y="15" width="1" height="1" fill="#555"/><rect x="868" y="15" width="1" height="1" fill="#555"/>
<rect x="856" y="17" width="1" height="1" fill="#555"/><rect x="868" y="17" width="1" height="1" fill="#555"/>
<rect x="856" y="19" width="1" height="1" fill="#555"/><rect x="868" y="19" width="1" height="1" fill="#555"/>
<rect x="856" y="21" width="1" height="1" fill="#555"/><rect x="868" y="21" width="1" height="1" fill="#555"/>
<rect x="855" y="8" width="2" height="2" fill="#555"/>
<rect x="858" y="11" width="8" height="2" fill="#4a4a4a"/><rect x="861" y="11" width="2" height="9" fill="#4a4a4a"/>
<path d="M883,12 L886.5,9 L890,12 Z" fill="#555"/><path d="M884,12 L886.5,13.5 L889,12 Z" fill="#777"/><path d="M885,15 L887.5,17.5 L891.5,12.5" fill="none" stroke="#555" stroke-width="1.3"/><path d="M890,18 L897,18 L893.5,22 Z" fill="#555"/><path d="M891,18 L893.5,16 L896,18 Z" fill="#777"/>
<polygon points="904,14 909,14 906.5,17" fill="#000"/>
<rect x="915" y="2" width="1" height="25" fill="#a0a0a0"/><rect x="916" y="2" width="1" height="25" fill="#ffffff"/>
<rect x="919" y="5" width="3" height="1" fill="#8c8c8c"/>
<rect x="919" y="7" width="3" height="1" fill="#8c8c8c"/>
<rect x="919" y="9" width="3" height="1" fill="#8c8c8c"/>
<rect x="919" y="11" width="3" height="1" fill="#8c8c8c"/>
<rect x="919" y="13" width="3" height="1" fill="#8c8c8c"/>
<rect x="919" y="15" width="3" height="1" fill="#8c8c8c"/>
<rect x="919" y="17" width="3" height="1" fill="#8c8c8c"/>
<rect x="919" y="19" width="3" height="1" fill="#8c8c8c"/>
<rect x="919" y="21" width="3" height="1" fill="#8c8c8c"/>
<rect x="919" y="23" width="3" height="1" fill="#8c8c8c"/>
<text class="tf" x="931" y="19">M1</text>
<text class="tf" x="958.5" y="19">M5</text>
<text class="tf" x="984.5" y="19">M15</text>
<text class="tf" x="1012.5" y="19">M30</text>
<text class="tf" x="1043.5" y="19">H1</text>
<rect x="1065" y="3" width="25" height="22" fill="#f7f7f7"/>
<rect x="1065" y="3" width="25" height="1" fill="#a0a0a0"/><rect x="1065" y="3" width="1" height="22" fill="#a0a0a0"/>
<rect x="1065" y="25" width="26" height="1" fill="#ffffff"/><rect x="1090" y="3" width="1" height="23" fill="#ffffff"/>
<text class="tf" x="1070.5" y="19">H4</text>
<text class="tf" x="1099" y="19">D1</text>
<text class="tf" x="1126.5" y="19">W1</text>
<text class="tf" x="1153.5" y="19">MN</text>
<rect x="1176" y="2" width="1" height="25" fill="#a0a0a0"/><rect x="1177" y="2" width="1" height="25" fill="#ffffff"/>
<circle cx="1646.6" cy="12.3" r="3.8" fill="#f4f4ff" stroke="#2a6ad8" stroke-width="1.2" shape-rendering="auto"/><line x1="1640.5" y1="19.5" x2="1644" y2="15.8" stroke="#2a6ad8" stroke-width="2.4" shape-rendering="auto"/>
<ellipse cx="1668.5" cy="17" rx="6" ry="4.5" fill="#e8e8f0" stroke="#999" stroke-width="1" shape-rendering="auto"/><path d="M1666,21 L1666.5,24 L1669,21.5" fill="#ccc" stroke="#999" stroke-width="0.8"/>
<circle cx="1677.5" cy="12.3" r="8.3" fill="url(#redg)"/><text x="1674.2" y="17.2" style="font-family:'Liberation Serif',serif;font-size:12.5px;fill:#fff;font-weight:bold">1</text></svg>
</body></html>
